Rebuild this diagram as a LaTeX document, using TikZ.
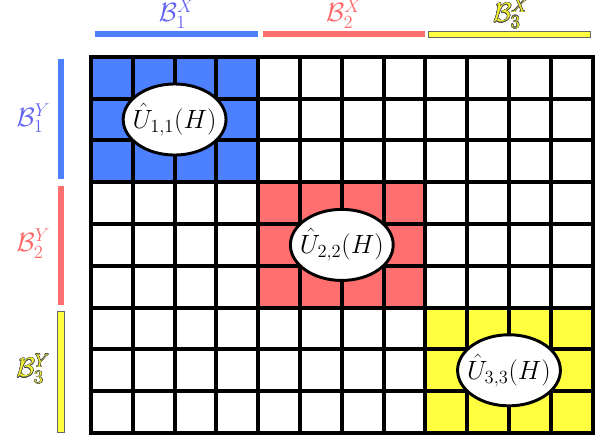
\RequirePackage{fix-cm}
\documentclass[tikz,border=0pt]{standalone}
\usepackage{tikz}
\usepackage{contour}
\usetikzlibrary{shapes.geometric}
\definecolor{blockblue}{HTML}{4D80FF}
\definecolor{blockred}{HTML}{FF6F6F}
\definecolor{blockyellow}{HTML}{FFFF40}
\definecolor{labelblue}{HTML}{6464F2}
\definecolor{labelred}{HTML}{FF6666}
\definecolor{labelyellow}{HTML}{F2F230}
\contourlength{0.3pt}
\newcommand{\blockfont}{\fontsize{18}{21}\selectfont}
\newcommand{\op}[1]{\makebox[0pt]{$\hat{U}_{#1}(H)$}}
\tikzset{
  cellline/.style={line width=2.7pt},
  blockop/.style={ellipse, draw, fill=white, line width=2pt, minimum width=24.6mm,
    minimum height=17mm, inner sep=0pt, font=\blockfont},
  blocklabel/.style={anchor=base, inner sep=0pt, font=\blockfont},
  bar/.style={line width=0.4pt},
}

\begin{document}
\begin{tikzpicture}
    \useasboundingbox (-2.177,-0.263) rectangle (12.225,10.359);
    % diagonal blocks
    \fill[blockblue] (0,6) rectangle (4,9);
    \fill[blockred] (4,3) rectangle (8,6);
    \fill[blockyellow] (8,0) rectangle (12,3);
    % cells
    \foreach \x in {0,...,12} \draw[cellline] (\x,0) -- (\x,9);
    \foreach \y in {0,...,9} \draw[cellline] (0,\y) -- (12,\y);
    \draw[cellline] (0,0) rectangle (12,9);
    % operators on the blocks
    \node[blockop] (u11) at (2,7.5) {\op{1,1}};
    \node[blockop] (u22) at (6,4.5) {\op{2,2}};
    \node[blockop] (u33) at (10,1.5) {\op{3,3}};
    % column bars
    \fill[bar, blockblue] (0.1,9.47) rectangle (4.0,9.62);
    \fill[bar, blockred] (4.12,9.47) rectangle (8.0,9.62);
    \filldraw[bar, fill=blockyellow, draw=black!60] (8.06,9.47) rectangle (11.95,9.62);
    \node[blocklabel, text=labelblue] (bx1) at (2.05,9.84) {$\mathcal{B}_1^X$};
    \node[blocklabel, text=labelred] (bx2) at (6.05,9.84) {$\mathcal{B}_2^X$};
    \node[blocklabel] (bx3) at (10.05,9.84) {\contour{black!70}{\textcolor{labelyellow}{$\mathcal{B}_3^X$}}};
    % row bars
    \fill[bar, blockblue] (-0.797,6.08) rectangle (-0.64,8.95);
    \fill[bar, blockred] (-0.797,3.06) rectangle (-0.64,5.91);
    \filldraw[bar, fill=blockyellow, draw=black!60] (-0.797,0.02) rectangle (-0.64,2.92);
    \node[blocklabel, text=labelblue] (by1) at (-1.38,7.34) {$\mathcal{B}_1^Y$};
    \node[blocklabel, text=labelred] (by2) at (-1.38,4.34) {$\mathcal{B}_2^Y$};
    \node[blocklabel] (by3) at (-1.38,1.34) {\contour{black!70}{\textcolor{labelyellow}{$\mathcal{B}_3^Y$}}};
  \end{tikzpicture}
\end{document}
